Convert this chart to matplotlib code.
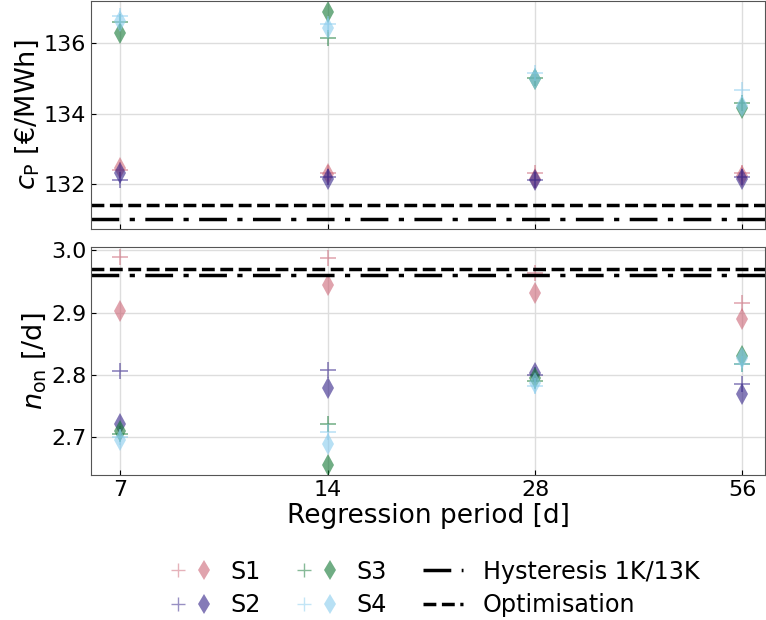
import matplotlib
matplotlib.use("Agg")
import matplotlib.pyplot as plt
from matplotlib.legend_handler import HandlerTuple
from matplotlib.lines import Line2D

periods = ["7", "14", "28", "56"]
scenarios = ["S1", "S2", "S3", "S4"]
colors = ["#CC6677", "#332288", "#117733", "#88CCEE"]

# cost c_P [EUR/MWh]: "+" and diamond per scenario
cp_plus = {
    "S1": [132.4, 132.3, 132.3, 132.3],
    "S2": [132.1, 132.2, 132.1, 132.2],
    "S3": [136.6, 136.15, 135.0, 134.3],
    "S4": [136.78, 136.55, 135.15, 134.67],
}
cp_diam = {
    "S1": [132.44, 132.28, 132.15, 132.23],
    "S2": [132.32, 132.14, 132.1, 132.13],
    "S3": [136.28, 136.88, 134.98, 134.17],
    "S4": [136.63, 136.43, 134.98, 134.22],
}
cp_hyst = 131.0
cp_opt = 131.4

# switching frequency n_on [/d]
non_plus = {
    "S1": [2.989, 2.988, 2.963, 2.916],
    "S2": [2.806, 2.808, 2.80, 2.786],
    "S3": [2.705, 2.722, 2.79, 2.817],
    "S4": [2.70, 2.708, 2.783, 2.817],
}
non_diam = {
    "S1": [2.902, 2.944, 2.931, 2.89],
    "S2": [2.721, 2.78, 2.804, 2.77],
    "S3": [2.711, 2.656, 2.795, 2.83],
    "S4": [2.696, 2.69, 2.787, 2.828],
}
non_hyst = 2.96
non_opt = 2.97

fig, (ax1, ax2) = plt.subplots(2, 1, figsize=(7.66, 6.2), dpi=100, sharex=True)
fig.subplots_adjust(left=0.119, right=0.999, top=0.998, bottom=0.234, hspace=0.08)

x = range(len(periods))
for ax, plus, diam, hyst, opt in [(ax1, cp_plus, cp_diam, cp_hyst, cp_opt),
                                  (ax2, non_plus, non_diam, non_hyst, non_opt)]:
    for s, c in zip(scenarios, colors):
        ax.plot(x, plus[s], '+', color=c, alpha=0.6, markersize=11, markeredgewidth=1.1, linestyle='none')
        ax.plot(x, diam[s], 'd', color=c, alpha=0.6, markersize=11, markeredgewidth=0, linestyle='none')
    ax.axhline(hyst, color='black', linestyle='-.', linewidth=2.5, dashes=(8, 3, 1.5, 3))
    ax.axhline(opt, color='black', linestyle='--', linewidth=2.5)
    ax.grid(True, color='#dddddd', linewidth=1)
    ax.set_axisbelow(True)
    ax.tick_params(direction='in', labelsize=16)
    for sp in ax.spines.values():
        sp.set_color('#555555')

ax1.set_ylim(130.72, 137.19)
ax1.set_yticks([132, 134, 136])
ax2.set_ylim(2.64, 3.005)
ax2.set_yticks([2.7, 2.8, 2.9, 3.0])
ax2.set_xlim(-0.14, 3.11)
ax2.set_xticks(list(x))
ax2.set_xticklabels(periods)
ax1.set_ylabel(r"$c_\mathrm{P}$ [€/MWh]", fontsize=19.5, labelpad=2)
ax2.set_ylabel(r"$n_\mathrm{on}$ [/d]", fontsize=19.5, labelpad=2)
ax2.set_xlabel("Regression period [d]", fontsize=19, labelpad=2)

handles = []
labels = []
for s, c in zip(scenarios, colors):
    h1 = Line2D([], [], marker='+', color=c, alpha=0.5, markersize=10, linestyle='none')
    h2 = Line2D([], [], marker='d', color=c, alpha=0.6, markersize=10, markeredgewidth=0, linestyle='none')
    handles.append((h1, h2))
    labels.append(s)
handles.append(Line2D([], [], color='black', linestyle='-.', linewidth=2.5, dashes=(8, 3, 1.5, 3)))
labels.append("Hysteresis 1K/13K")
handles.append(Line2D([], [], color='black', linestyle='--', linewidth=2.5))
labels.append("Optimisation")

fig.legend(handles, labels, ncol=3, loc='lower center', bbox_to_anchor=(0.568, -0.03),
           frameon=False, fontsize=17.2, handler_map={tuple: HandlerTuple(ndivide=None, pad=0.5)},
           columnspacing=1.5, handlelength=1.7, handletextpad=0.8, labelspacing=0.4)

fig.savefig("out.png", dpi=100)
